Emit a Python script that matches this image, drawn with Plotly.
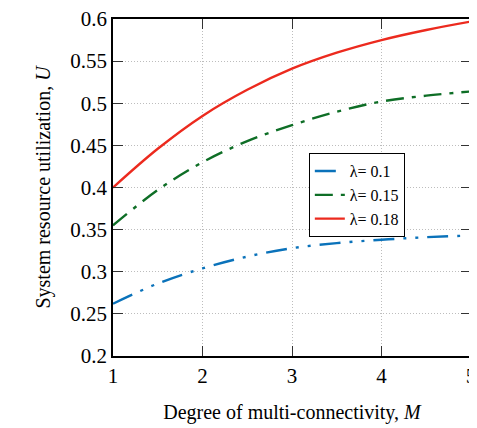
import plotly.graph_objects as go

M = [1, 1.5, 2, 2.5, 3, 3.5, 4, 4.5, 5]
u_01 = [0.262, 0.286, 0.304, 0.318, 0.328, 0.334, 0.338, 0.341, 0.343]
u_015 = [0.355, 0.397, 0.430, 0.455, 0.474, 0.490, 0.502, 0.509, 0.514]
u_018 = [0.400, 0.446, 0.485, 0.516, 0.541, 0.560, 0.575, 0.587, 0.597]
names = ["λ= 0.1", "λ= 0.15", "λ= 0.18"]
x_ticks = [1, 2, 3, 4, 5]
y_ticks = [0.2, 0.25, 0.3, 0.35, 0.4, 0.45, 0.5, 0.55, 0.6]
y_tick_text = ["0.2", "0.25", "0.3", "0.35", "0.4", "0.45", "0.5", "0.55", "0.6"]

FONT = "Liberation Serif, Times New Roman, serif"
fig = go.Figure()
styles = [("#0a72ba", "21px,9px,3px,9px,3px,9px"),
          ("#0e6e26", "18px,8px,4px,8px"),
          ("#ec2a1e", "solid")]
for ys, nm, (c, d) in zip([u_01, u_015, u_018], names, styles):
    fig.add_trace(go.Scatter(x=M, y=ys, name=nm, mode="lines",
                             line=dict(color=c, width=2.4, dash=d, shape="spline")))

axis_common = dict(showline=True, linecolor="black", linewidth=1.5, mirror="allticks",
                   ticks="inside", ticklen=10, tickcolor="#333", tickwidth=1.3,
                   showgrid=True, gridcolor="#bdbdbd", griddash="1px,2px", gridwidth=1,
                   zeroline=False, automargin=False, ticklabeloverflow="allow",
                   tickfont=dict(family=FONT, size=21, color="black"))
fig.update_xaxes(range=[1, 5], tickvals=x_ticks, **axis_common,
                 title=dict(text="Degree of multi-connectivity, <i>M</i>",
                            font=dict(family=FONT, size=20, color="black"), standoff=18))
fig.update_yaxes(range=[0.2, 0.6], tickvals=y_ticks, ticktext=y_tick_text, **axis_common,
                 title=dict(text="System resource utilization, <i>U</i>",
                            font=dict(family=FONT, size=20, color="black"), standoff=14))
fig.update_layout(width=469, height=420, margin=dict(l=105, r=6, t=11, b=72),
                  font=dict(family=FONT, color="black"),
                  plot_bgcolor="white", paper_bgcolor="white",
                  legend=dict(x=0.547, y=0.602, xanchor="left", yanchor="top",
                              bordercolor="black", borderwidth=1, bgcolor="white",
                              font=dict(family=FONT, size=16, color="black"),
                              tracegroupgap=0))
fig.write_html("out.html")
